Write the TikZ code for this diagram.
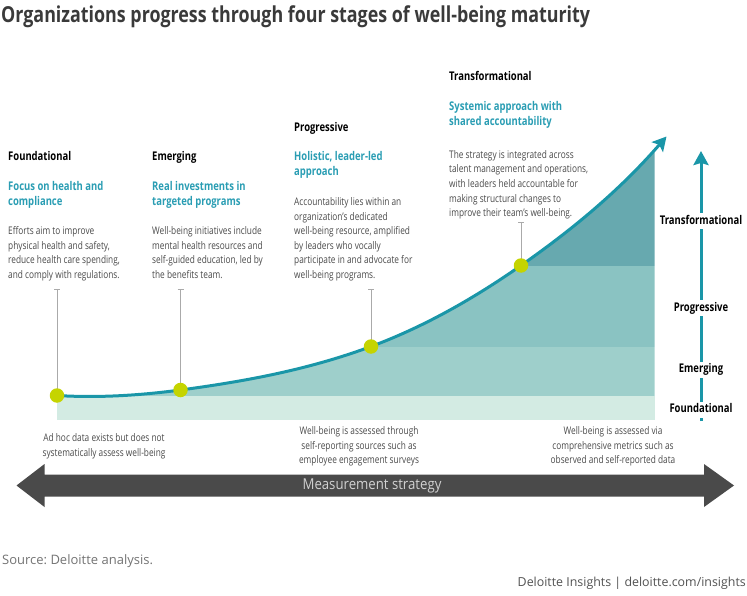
\documentclass[tikz,border=0pt]{standalone}
\usepackage{fontspec}
\setmainfont{Open Sans}
\newfontfamily\cond[FakeStretch=0.79]{Open Sans}
\newfontfamily\condt[FakeStretch=0.812]{Open Sans}
\newfontfamily\condm[FakeStretch=0.88]{Open Sans}
\usetikzlibrary{arrows.meta}
\frenchspacing
\definecolor{curveteal}{HTML}{1A96A8}
\definecolor{headteal}{HTML}{2A9DB3}
\definecolor{dotgreen}{HTML}{C5D400}
\definecolor{bandA}{HTML}{D3EBE3}
\definecolor{bandB}{HTML}{9ECFCB}
\definecolor{bandC}{HTML}{8AC3C2}
\definecolor{bandD}{HTML}{67A9AF}
\definecolor{bodygrey}{HTML}{4A4A4A}
\definecolor{titlegrey}{HTML}{3A3A3A}
\definecolor{arrowgrey}{HTML}{4A4A4A}
\definecolor{stemgrey}{HTML}{AAAAAA}
\newcommand{\blockL}[1]{\begin{tabular}[t]{@{}l@{}}#1\end{tabular}}
\newcommand{\blockC}[1]{\begin{tabular}[t]{@{}c@{}}#1\end{tabular}}
\begin{document}
\begin{tikzpicture}[x=1pt,y=-1pt,
  hd/.style={anchor=base west, inner sep=0pt, text=black, font=\cond\bfseries\fontsize{12}{15}\selectfont},
  sub/.style={anchor=base west, inner sep=0pt, text=headteal, font=\cond\bfseries\fontsize{12}{15}\selectfont},
  body/.style={anchor=base west, inner sep=0pt, text=bodygrey, font=\cond\fontsize{10.5}{14.6}\selectfont},
  meas/.style={anchor=base, inner sep=0pt, text=bodygrey, font=\cond\fontsize{10.5}{14.6}\selectfont},
  axlab/.style={anchor=base, fill=white, inner sep=2pt, text height=9pt, text depth=3pt, text=black, font=\cond\bfseries\fontsize{12}{15}\selectfont},
  stem/.style={draw=stemgrey, line width=0.7pt},
  stagedot/.style={circle, fill=dotgreen, minimum size=14.5pt, inner sep=0pt},
  growth/.style={draw=curveteal, line width=3pt, -{Stealth[length=14pt,width=15pt,inset=3pt]}},
  axisline/.style={draw=curveteal, line width=3pt, -{Stealth[length=14pt,width=15pt,inset=2pt]}}
]
\useasboundingbox (0,0) rectangle (747,596);

% title
\node[anchor=base west, inner sep=0pt, text=titlegrey, font=\condt\bfseries\fontsize{22}{26}\selectfont] (title) at (1,23) {Organizations progress through four stages of well-being maturity};

% key points
\coordinate (pF) at (57,395.5);
\coordinate (pE) at (180.5,390);
\coordinate (pP) at (371,346.5);
\coordinate (pT) at (521,265.5);
\coordinate (tipC) at (666.5,136.5);

% bands
\fill[bandA] (57,395.5) rectangle (654.5,420);
\begin{scope}
  \clip (57,100) rectangle (654.5,420);
  \clip (pF) .. controls (98,398) and (139,395.5) .. (pE)
        .. controls (243.8,381.5) and (307.7,370) .. (pP)
        .. controls (421,328) and (471,300.5) .. (pT)
        .. controls (569.7,231.4) and (617.8,192.5) .. (tipC)
        -- (666.5,420) -- (57,420) -- cycle;
  \fill[bandB] (57,346.5) rectangle (654.5,395.5);
  \fill[bandC] (57,265.5) rectangle (654.5,346.5);
  \fill[bandD] (57,100) rectangle (654.5,265.5);
\end{scope}

% stems
\coordinate (sF) at (57,289);
\coordinate (sE) at (180.5,289);
\coordinate (sP) at (371,289);
\coordinate (sT) at (521,222);
\foreach \s/\p in {sF/pF, sE/pE, sP/pP, sT/pT}{
  \draw[stem] (\s) -- (\p);
  \draw[stem] ([xshift=-3pt]\s) -- ([xshift=3pt]\s);
}

% growth curve
\draw[growth] (pF) .. controls (98,398) and (139,395.5) .. (pE)
        .. controls (243.8,381.5) and (307.7,370) .. (pP)
        .. controls (421,328) and (471,300.5) .. (pT)
        .. controls (569.7,231.4) and (617.8,192.5) .. (tipC);

% dots
\node[stagedot] (dotF) at (pF) {};
\node[stagedot] (dotE) at (pE) {};
\node[stagedot] (dotP) at (pP) {};
\node[stagedot] (dotT) at (pT) {};

% stage texts
\node[hd] (h1) at (8,161) {Foundational};
\node[sub] (s1) at (8,190.5) {\blockL{Focus on health and\\compliance}};
\node[body] (b1) at (8,234.5) {\blockL{Efforts aim to improve\\physical health and safety,\\reduce health care spending,\\and comply with regulations.}};

\node[hd] (h2) at (152,161) {Emerging};
\node[sub] (s2) at (152,190.5) {\blockL{Real investments in\\targeted programs}};
\node[body] (b2) at (152,234.5) {\blockL{Well-being initiatives include\\mental health resources and\\self-guided education, led by\\the benefits team.}};

\node[hd] (h3) at (294,131.5) {Progressive};
\node[sub] (s3) at (294,161) {\blockL{Holistic, leader-led\\approach}};
\node[body] (b3) at (294,205.5) {\blockL{Accountability lies within an\\organization’s dedicated\\well-being resource, amplified\\by leaders who vocally\\participate in and advocate for\\well-being programs.}};

\node[hd] (h4) at (449,81) {Transformational};
\node[sub] (s4) at (449,111) {\blockL{Systemic approach with\\shared accountability}};
\node[body] (b4) at (449,158.3) {\blockL{The strategy is integrated across\\talent management and operations,\\with leaders held accountable for\\making structural changes to\\improve their team’s well-being.}};

% right axis
\coordinate (axB) at (701,421);
\coordinate (axT) at (701,151);
\draw[axisline] (axB) -- (axT);
\node[axlab] (lT) at (701,224.3) {Transformational};
\node[axlab] (lP) at (701,311) {Progressive};
\node[axlab] (lE) at (701,372.6) {Emerging};
\node[axlab] (lF) at (701,412.6) {Foundational};

% measurement texts
\node[meas] (m1) at (104,441.5) {\blockC{Ad hoc data exists but does not\\systematically assess well-being}};
\node[meas] (m2) at (359,434.7) {\blockC{Well-being is assessed through\\self-reporting sources such as\\employee engagement surveys}};
\node[meas] (m3) at (613,434.7) {\blockC{Well-being is assessed via\\comprehensive metrics such as\\observed and self-reported data}};

% measurement arrow
\fill[arrowgrey] (16.5,485.5) -- (44.5,464) -- (44.5,474.5) -- (704,474.5) -- (704,464) -- (734,485.5)
   -- (704,507) -- (704,496.5) -- (44.5,496.5) -- (44.5,507) -- cycle;
\node[anchor=center, inner sep=0pt, text=white!82!black, font=\condm\fontsize{15}{18}\selectfont] (ms) at (372,485.5) {Measurement strategy};

% footer
\node[anchor=base west, inner sep=0pt, text=black!55, font=\fontsize{13}{16}\selectfont] (src) at (2,564.5) {Source: Deloitte analysis.};
\node[anchor=base east, inner sep=0pt, text=black!68, font=\fontsize{12.4}{15}\selectfont] (brand) at (746,586) {Deloitte Insights | deloitte.com/insights};
\end{tikzpicture}
\end{document}
